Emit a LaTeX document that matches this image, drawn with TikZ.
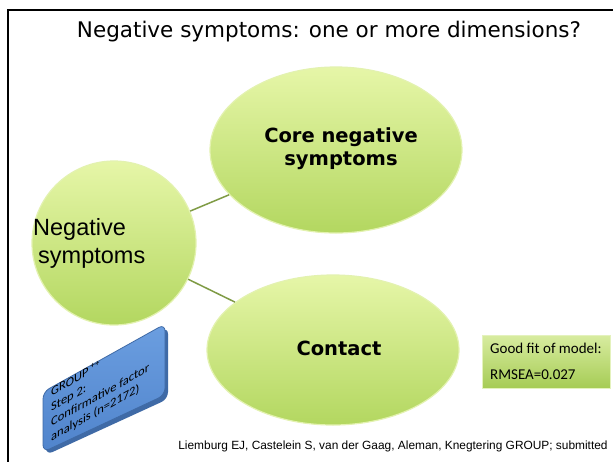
\documentclass[tikz,border=0pt]{standalone}
\usepackage{fontspec}
\setmainfont{Liberation Sans}
\newfontfamily\tahoma{DejaVu Sans}
\newfontfamily\calib{Carlito}
\newfontfamily\arialf{Liberation Sans}
\usetikzlibrary{shapes.geometric}
\definecolor{gtop}{HTML}{E6F6A8}
\definecolor{gbot}{HTML}{B3D760}
\definecolor{grim}{HTML}{E3F2B0}
\definecolor{gline}{HTML}{7F9B45}
\definecolor{btop}{HTML}{6B9EE0}
\definecolor{bbot}{HTML}{5084CC}
\definecolor{bdark}{HTML}{3F6AA6}
\definecolor{fittop}{HTML}{D8ECA0}
\definecolor{fitbot}{HTML}{A6CC55}
\tikzset{
  bubble/.style={ellipse, inner sep=0pt, top color=gtop, bottom color=gbot, draw=grim, line width=1.2pt},
  link/.style={draw=gline, line width=1.5pt},
  bigbold/.style={font=\tahoma\bfseries\fontsize{19.5}{23}\selectfont, inner sep=0pt},
}
\begin{document}
\begin{tikzpicture}[x=1pt,y=-1pt]
\useasboundingbox (0,0) rectangle (613,461);
\fill[white] (0,0) rectangle (613,461);
% frame
\draw[line width=2pt] (8,462) -- (8,10) -- (614,10);
% title
\node[font=\tahoma\fontsize{21.5}{24}\selectfont, inner sep=0pt] (title) at (329,32) {Negative symptoms: one or more dimensions?};
% bubbles
\node[bubble, minimum width=252, minimum height=166] (core) at (336,150) {};
\node[bubble, minimum width=252, minimum height=150] (contact) at (333,350) {};
\node[bubble, circle, minimum size=164] (neg) at (114,243) {};
\draw[link] (neg) -- (core);
\draw[link] (neg) -- (contact);
% texts in bubbles
\node[bigbold, align=center] (coretxt) at (341,149) {Core negative\\symptoms};
\node[bigbold] (contacttxt) at (339,348) {Contact};
\node[font=\arialf\fontsize{23.5}{28}\selectfont, inner sep=0pt, anchor=base west] (negtxt1) at (33,235) {Negative};
\node[font=\arialf\fontsize{23.5}{28}\selectfont, inner sep=0pt, anchor=base west] (negtxt2) at (38,263) {symptoms};
% good fit box
\node[rectangle, minimum width=128, minimum height=53, top color=fittop, bottom color=fitbot, draw=fittop!70!white, line width=0.8pt, inner sep=0pt] (fit) at (546,361.5) {};
\node[font=\calib\fontsize{15}{18}\selectfont, anchor=west, inner sep=0pt] (fit1) at (490,348) {Good fit of model:};
\node[font=\calib\fontsize{15}{18}\selectfont, anchor=west, inner sep=0pt] (fit2) at (490,375) {RMSEA=0.027};
% blue slanted box
\fill[bdark, rounded corners=7pt] (46,396) -- (168,327) -- (168,399) -- (46,455) -- cycle;
\path[top color=btop, bottom color=bbot, draw=bdark, line width=0.8pt, rounded corners=7pt] (43,392) -- (165,324) -- (165,395) -- (43,452) -- cycle;
\node[font=\calib\fontsize{12.5}{15}\selectfont, align=left, anchor=north west, inner sep=0pt, transform shape, yslant=0.56] (group) at (51,387) {GROUP\,\textsuperscript{++}\\Step 2:\\Confirmative factor\\analysis (n=2172)};
% citation
\node[font=\arialf\fontsize{11.9}{13}\selectfont, inner sep=0pt, anchor=base] (cite) at (393,449) {Liemburg EJ, Castelein S, van der Gaag, Aleman, Knegtering GROUP; submitted};
\end{tikzpicture}
\end{document}
